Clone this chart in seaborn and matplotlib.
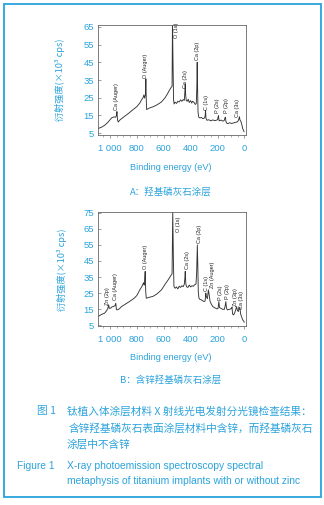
import pandas as pd
import seaborn as sns
import matplotlib.pyplot as plt
from matplotlib.patches import Rectangle

# XPS survey spectra (binding energy in eV, counts x10^3 cps)
energy_a = [1089, 1060, 1037, 1015, 995, 985, 970, 958, 952, 948, 944, 938, 930, 914,
            890, 860, 830, 800, 778, 765, 753, 748, 742, 736, 733, 730, 727, 715, 700,
            679, 650, 617, 590, 570, 556, 545, 538, 535, 530, 527, 523, 515, 505, 495,
            485, 475, 465, 455, 447, 443, 440, 437, 433, 425, 418, 410, 400, 392, 385,
            375, 365, 358, 354, 351, 348, 345, 340, 330, 320, 309, 300, 292, 289, 286,
            279, 265, 250, 235, 220, 210, 200, 193, 188, 173, 160, 150, 144, 141, 137,
            130, 123, 110, 95, 80, 74, 60, 49, 42, 37, 33, 25, 18, 12, 7, 2]
counts_a = [7.6, 8.5, 9.6, 11.2, 13.0, 13.8, 14.2, 14.0, 15.0, 17.2, 12.5, 11.3, 12.2, 13.2,
            14.6, 16.3, 18.2, 20.0, 22.0, 23.8, 25.2, 26.6, 24.8, 27.0, 35.7, 24.0, 18.3, 18.9, 19.4,
            19.9, 21.0, 22.6, 25.0, 27.5, 29.5, 30.8, 31.5, 68.0, 40.0, 24.0, 21.5, 22.5, 21.8, 23.0,
            22.6, 23.8, 23.0, 24.0, 23.5, 28.0, 32.8, 27.0, 23.5, 23.0, 24.2, 22.3, 23.4, 22.0, 23.0,
            22.4, 21.2, 21.8, 30.0, 45.0, 30.0, 17.0, 14.1, 13.6, 13.9, 13.2, 13.4, 14.5, 17.9, 13.5,
            12.3, 12.6, 12.0, 12.5, 12.1, 12.3, 12.6, 15.0, 12.0, 12.4, 11.8, 12.2, 13.8, 14.0, 11.5,
            10.6, 10.4, 10.9, 10.5, 10.8, 11.0, 11.2, 11.6, 12.8, 14.3, 12.5, 11.5, 9.5, 7.5, 6.7, 5.8]

energy_b = [1089, 1060, 1040, 1025, 1015, 1010, 1005, 995, 985, 970, 962, 957, 952, 946,
            930, 914, 880, 850, 820, 800, 778, 760, 750, 745, 742, 738, 734, 730, 715,
            679, 650, 617, 590, 565, 545, 538, 533, 528, 524, 515, 505, 495, 485, 475,
            465, 455, 447, 443, 440, 436, 431, 420, 410, 400, 390, 380, 370, 360, 355,
            350, 346, 343, 338, 330, 320, 310, 300, 292, 287, 283, 275, 268, 262, 255,
            245, 235, 215, 205, 196, 190, 185, 176, 165, 150, 143, 138, 133, 126, 115,
            104, 95, 92, 88, 80, 72, 65, 58, 52, 45, 40, 34, 28, 20, 12, 5, 1]
counts_b = [10.4, 11.8, 12.5, 14.0, 15.6, 17.7, 15.5, 15.6, 16.4, 16.8, 17.2, 18.7, 14.8, 14.5,
            15.2, 16.6, 18.4, 20.0, 21.8, 23.5, 27.0, 29.5, 31.5, 30.0, 33.0, 38.5, 26.0, 21.8, 22.2,
            23.0, 24.5, 27.0, 30.5, 33.5, 36.2, 37.0, 76.0, 45.0, 29.1, 28.0, 28.8, 27.6, 29.3, 28.5,
            29.6, 29.0, 30.5, 34.0, 38.5, 31.0, 29.0, 28.5, 30.0, 28.8, 29.6, 29.2, 30.2, 30.6, 38.0,
            55.0, 40.0, 26.0, 21.8, 21.0, 20.8, 20.2, 19.7, 20.2, 25.0, 22.9, 21.5, 27.0, 24.0, 19.7,
            18.0, 16.6, 15.6, 15.2, 15.4, 19.7, 16.0, 15.6, 15.0, 14.8, 17.0, 19.7, 15.5, 14.5, 14.8,
            15.0, 15.6, 16.2, 12.0, 11.4, 12.8, 14.5, 16.6, 14.2, 13.5, 15.5, 16.2, 12.0, 10.0, 8.3, 7.5, 6.8]

# peak names with (energy, label bottom) in data units
peaks_a = [("Ca (Auger)", 948, 18), ("O (Auger)", 733, 36), ("O (1s)", 504, 58.5),
           ("Ca (2s)", 437, 30.5), ("Ca (2p)", 346, 46), ("C (1s)", 284, 18),
           ("P (2s)", 198, 16.2), ("P (2p)", 136, 16.2), ("Ca (3s)", 50, 14)]
peaks_b = [("Zn (2p)", 1022, 17.5), ("Ca (Auger)", 956, 20.6), ("O (Auger)", 736, 40),
           ("O (1s)", 489, 63), ("Ca (2s)", 424, 40), ("Ca (2p)", 333, 56),
           ("C (1s)", 281, 26), ("Zn (Auger)", 239, 28), ("P (2s)", 180, 21),
           ("P (2p)", 124, 21.5), ("Zn (3p)", 69, 17), ("Ca (3s)", 24, 15)]

xticks = [1000, 800, 600, 400, 200, 0]
xticklabels = ["1 000", "800", "600", "400", "200", "0"]

BLUE = "#2ba3dc"
CJK = ["Noto Sans CJK SC", "DejaVu Sans"]

sns.set_style("ticks")
plt.rcParams["font.family"] = ["Liberation Sans", "DejaVu Sans"]

W, H = 324, 505
fig = plt.figure(figsize=(W / 100, H / 100), dpi=100)


def box(left, top, right, bottom):
    return [left / W, 1 - bottom / H, (right - left) / W, (bottom - top) / H]


def ftext(x, y, s, **kw):
    fig.text(x / W, 1 - y / H, s, **kw)


def panel(rect, energy, counts, peaks, ylim, yticks, ylab_x, title, title_y, xlab_y):
    ax = fig.add_axes(rect)
    df = pd.DataFrame({"energy": energy, "counts": counts})
    sns.lineplot(data=df, x="energy", y="counts", ax=ax, color="#333333",
                 linewidth=0.65, sort=False, estimator=None)
    ax.set_xlim(1089, -12)
    ax.set_ylim(*ylim)
    ax.set_xticks(xticks)
    ax.set_xticklabels(xticklabels)
    ax.set_xticks(range(1050, -1, -50), minor=True)
    ax.set_yticks(yticks)
    ax.tick_params(axis="both", colors="#777777", labelcolor=BLUE, labelsize=6.8,
                   width=0.5)
    ax.tick_params(axis="x", which="major", length=2.5, pad=4)
    ax.tick_params(axis="x", which="minor", length=1.5, width=0.4, colors="#777777")
    ax.tick_params(axis="y", direction="in", length=2, pad=3)
    for s in ax.spines.values():
        s.set_color("#666666")
        s.set_linewidth(0.6)
        s.set_visible(True)
    ax.set_xlabel("")
    ax.set_ylabel("")
    for name, x, y in peaks:
        ax.text(x, y, name, rotation=90, ha="center", va="bottom", fontsize=4.0,
                color="#222222")
    ftext(ylab_x[0], ylab_x[1], "衍射强度(×10³ cps)", rotation=90, ha="center",
          va="center", color=BLUE, fontsize=6.6, family=CJK)
    ftext(171, xlab_y, "Binding energy (eV)", ha="center", va="center",
          color=BLUE, fontsize=6.6)
    ftext(171, title_y, title, ha="center", va="center", color=BLUE, fontsize=6.8,
          family=CJK)
    return ax


panel(box(98, 25, 246, 135), energy_a, counts_a, peaks_a, (4, 66),
      [5, 15, 25, 35, 45, 55, 65], (60, 80), "A：羟基磷灰石涂层", 192, 167)
panel(box(98, 212, 246, 326), energy_b, counts_b, peaks_b, (4.5, 75.5),
      [5, 15, 25, 35, 45, 55, 65, 75], (62, 270), "B：含锌羟基磷灰石涂层", 380, 357)

# caption
cap = dict(color=BLUE, fontsize=7.7, va="center", family=CJK)
ftext(37, 411, "图 1", **cap)
ftext(67, 411, "钛植入体涂层材料 X 射线光电发射分光镜检查结果：", **cap)
ftext(69, 428, "含锌羟基磷灰石表面涂层材料中含锌，而羟基磷灰石", **cap)
ftext(67, 444, "涂层中不含锌", **cap)
eng = dict(color=BLUE, fontsize=7.4, va="center")
ftext(17, 466, "Figure 1", **eng)
ftext(67, 466, "X-ray photoemission spectroscopy spectral", **eng)
ftext(67, 481, "metaphysis of titanium implants with or without zinc", **eng)

# outer frame
fig.patches.append(Rectangle((4 / W, 1 - 497 / H), 317 / W, 493 / H,
                             transform=fig.transFigure, fill=False,
                             edgecolor="#27a3dc", linewidth=1.3))

fig.savefig("out.png", dpi=100)
